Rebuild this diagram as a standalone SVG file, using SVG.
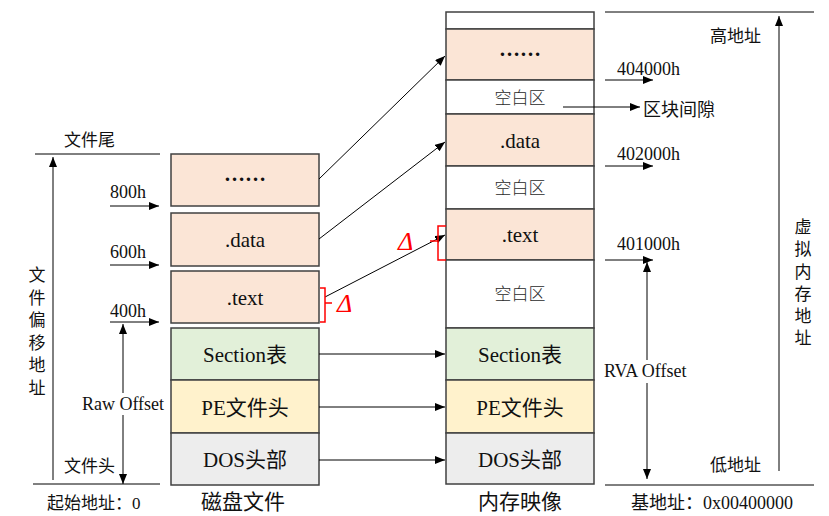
<svg xmlns="http://www.w3.org/2000/svg" width="829" height="516" viewBox="0 0 829 516">
<style>
.box{stroke:#404040;stroke-width:1.5}
.sec{fill:#FBE5D6}.tab{fill:#E2F0D9}.pe{fill:#FFF2CC}.dos{fill:#EDEDED}.emp{fill:#FFFFFF}
.ln{stroke:#000;stroke-width:1;fill:none}
.ar{marker-end:url(#ah)}
.t{font-family:"Liberation Serif","Noto Sans CJK SC",serif;fill:#111}
.bt{font-size:21px;text-anchor:middle}
.dots{font-weight:bold}
.lb{font-size:18px}
.cj{font-size:17px}
.em{font-family:"Noto Sans CJK SC",sans-serif;font-size:17px;fill:#2a2a2a;text-anchor:middle;font-weight:300}
.red{stroke:#FF0000;stroke-width:1.5;fill:none}
.dl{font-family:"Liberation Serif",serif;font-style:italic;font-size:26px;fill:#FF0000}
</style>
<defs>
<marker id="ah" markerUnits="userSpaceOnUse" markerWidth="10" markerHeight="8" refX="10" refY="4" orient="auto-start-reverse">
<path d="M0,0 L10,4 L0,8 z" fill="#000"/>
</marker>
</defs>

<g id="left-axis">
<line class="ln" x1="35" y1="154" x2="160" y2="154"/>
<line class="ln" x1="33" y1="484" x2="160" y2="484"/>
<line class="ln ar" x1="53" y1="480" x2="53" y2="157"/>
<text class="t cj" x="64" y="146">文件尾</text>
<text class="t cj" x="64" y="472">文件头</text>
<text class="t cj" x="47" y="509">起始地址：0</text>
<g class="t cj" text-anchor="middle">
<text x="37" y="281">文</text>
<text x="37" y="304">件</text>
<text x="37" y="326">偏</text>
<text x="37" y="349">移</text>
<text x="37" y="371">地</text>
<text x="37" y="394">址</text>
</g>
<text class="t lb" x="110" y="198">800h</text>
<text class="t lb" x="110" y="258">600h</text>
<text class="t lb" x="110" y="317">400h</text>
<line class="ln ar" x1="110" y1="206" x2="159" y2="206"/>
<line class="ln ar" x1="110" y1="265" x2="159" y2="265"/>
<line class="ln ar" x1="110" y1="322" x2="159" y2="322"/>
<line class="ln ar" x1="123" y1="393" x2="123" y2="324"/>
<line class="ln ar" x1="123" y1="415" x2="123" y2="484"/>
<text class="t lb" x="123" y="410" text-anchor="middle">Raw Offset</text>
</g>

<g id="disk">
<g id="disk-more"><rect class="box sec" x="171" y="154" width="148" height="52"/><text class="t bt dots" x="245" y="181">……</text></g>
<g id="disk-data"><rect class="box sec" x="171" y="213" width="148" height="53"/><text class="t bt" x="245" y="247">.data</text></g>
<g id="disk-text"><rect class="box sec" x="171" y="271" width="148" height="52"/><text class="t bt" x="245" y="305">.text</text></g>
<g id="disk-section"><rect class="box tab" x="171" y="328" width="148" height="52"/><text class="t bt" x="245" y="362">Section表</text></g>
<g id="disk-pe"><rect class="box pe" x="171" y="380" width="148" height="53"/><text class="t bt" x="245" y="415">PE文件头</text></g>
<g id="disk-dos"><rect class="box dos" x="171" y="433" width="148" height="52"/><text class="t bt" x="245" y="467">DOS头部</text></g>
<text class="t bt" x="243" y="509">磁盘文件</text>
</g>

<g id="memory">
<g id="mem-top"><rect class="box emp" x="446" y="12" width="148" height="17"/></g>
<g id="mem-more"><rect class="box sec" x="446" y="29" width="148" height="51"/><text class="t bt dots" x="520" y="56">……</text></g>
<g id="mem-gap1"><rect class="box emp" x="446" y="80" width="148" height="34"/><text class="em" x="520" y="104">空白区</text></g>
<g id="mem-data"><rect class="box sec" x="446" y="114" width="148" height="52"/><text class="t bt" x="520" y="148">.data</text></g>
<g id="mem-gap2"><rect class="box emp" x="446" y="166" width="148" height="43"/><text class="em" x="520" y="194">空白区</text></g>
<g id="mem-text"><rect class="box sec" x="446" y="209" width="148" height="51"/><text class="t bt" x="520" y="242">.text</text></g>
<g id="mem-gap3"><rect class="box emp" x="446" y="260" width="148" height="68"/><text class="em" x="520" y="300">空白区</text></g>
<g id="mem-section"><rect class="box tab" x="446" y="328" width="148" height="52"/><text class="t bt" x="520" y="362">Section表</text></g>
<g id="mem-pe"><rect class="box pe" x="446" y="380" width="148" height="53"/><text class="t bt" x="520" y="415">PE文件头</text></g>
<g id="mem-dos"><rect class="box dos" x="446" y="433" width="148" height="51"/><text class="t bt" x="520" y="467">DOS头部</text></g>
<text class="t bt" x="520" y="509">内存映像</text>
</g>

<g id="right-axis">
<line class="ln" x1="605" y1="12" x2="814" y2="12"/>
<line class="ln" x1="605" y1="485" x2="814" y2="485"/>
<line class="ln ar" x1="779" y1="471" x2="779" y2="16"/>
<text class="t cj" x="710" y="42">高地址</text>
<text class="t cj" x="710" y="471">低地址</text>
<text class="t lb" x="631" y="509">基地址：0x00400000</text>
<g class="t cj" text-anchor="middle">
<text x="803" y="233">虚</text>
<text x="803" y="255">拟</text>
<text x="803" y="278">内</text>
<text x="803" y="300">存</text>
<text x="803" y="322">地</text>
<text x="803" y="344">址</text>
</g>
<text class="t lb" x="617" y="75">404000h</text>
<text class="t lb" x="617" y="160">402000h</text>
<text class="t lb" x="617" y="250">401000h</text>
<line class="ln ar" x1="605" y1="80" x2="653" y2="80"/>
<line class="ln ar" x1="605" y1="166" x2="653" y2="166"/>
<line class="ln ar" x1="605" y1="260" x2="653" y2="260"/>
<text class="t lb" x="643" y="116">区块间隙</text>
<line class="ln ar" x1="647" y1="360" x2="647" y2="262"/>
<line class="ln ar" x1="647" y1="383" x2="647" y2="479"/>
<text class="t lb" x="604" y="377">RVA Offset</text>
</g>

<g id="connectors">
<line class="ln ar" x1="319" y1="179" x2="445" y2="56"/>
<line class="ln ar" x1="319" y1="239" x2="445" y2="142"/>
<line class="ln ar" x1="325" y1="297" x2="445" y2="235"/>
<line class="ln ar" x1="319" y1="354" x2="445" y2="354"/>
<line class="ln ar" x1="319" y1="407" x2="445" y2="407"/>
<line class="ln ar" x1="319" y1="460" x2="445" y2="460"/>
<line class="ln ar" x1="563" y1="107" x2="640" y2="107"/>
</g>

<g id="delta-marks">
<path class="red" d="M320,288 H325 V322 H320 M325,303 H332"/>
<text class="dl" x="337" y="312">Δ</text>
<path class="red" d="M446,226 H438 V260 H446 M438,241 H430"/>
<text class="dl" x="398" y="250">Δ</text>
</g>
</svg>
